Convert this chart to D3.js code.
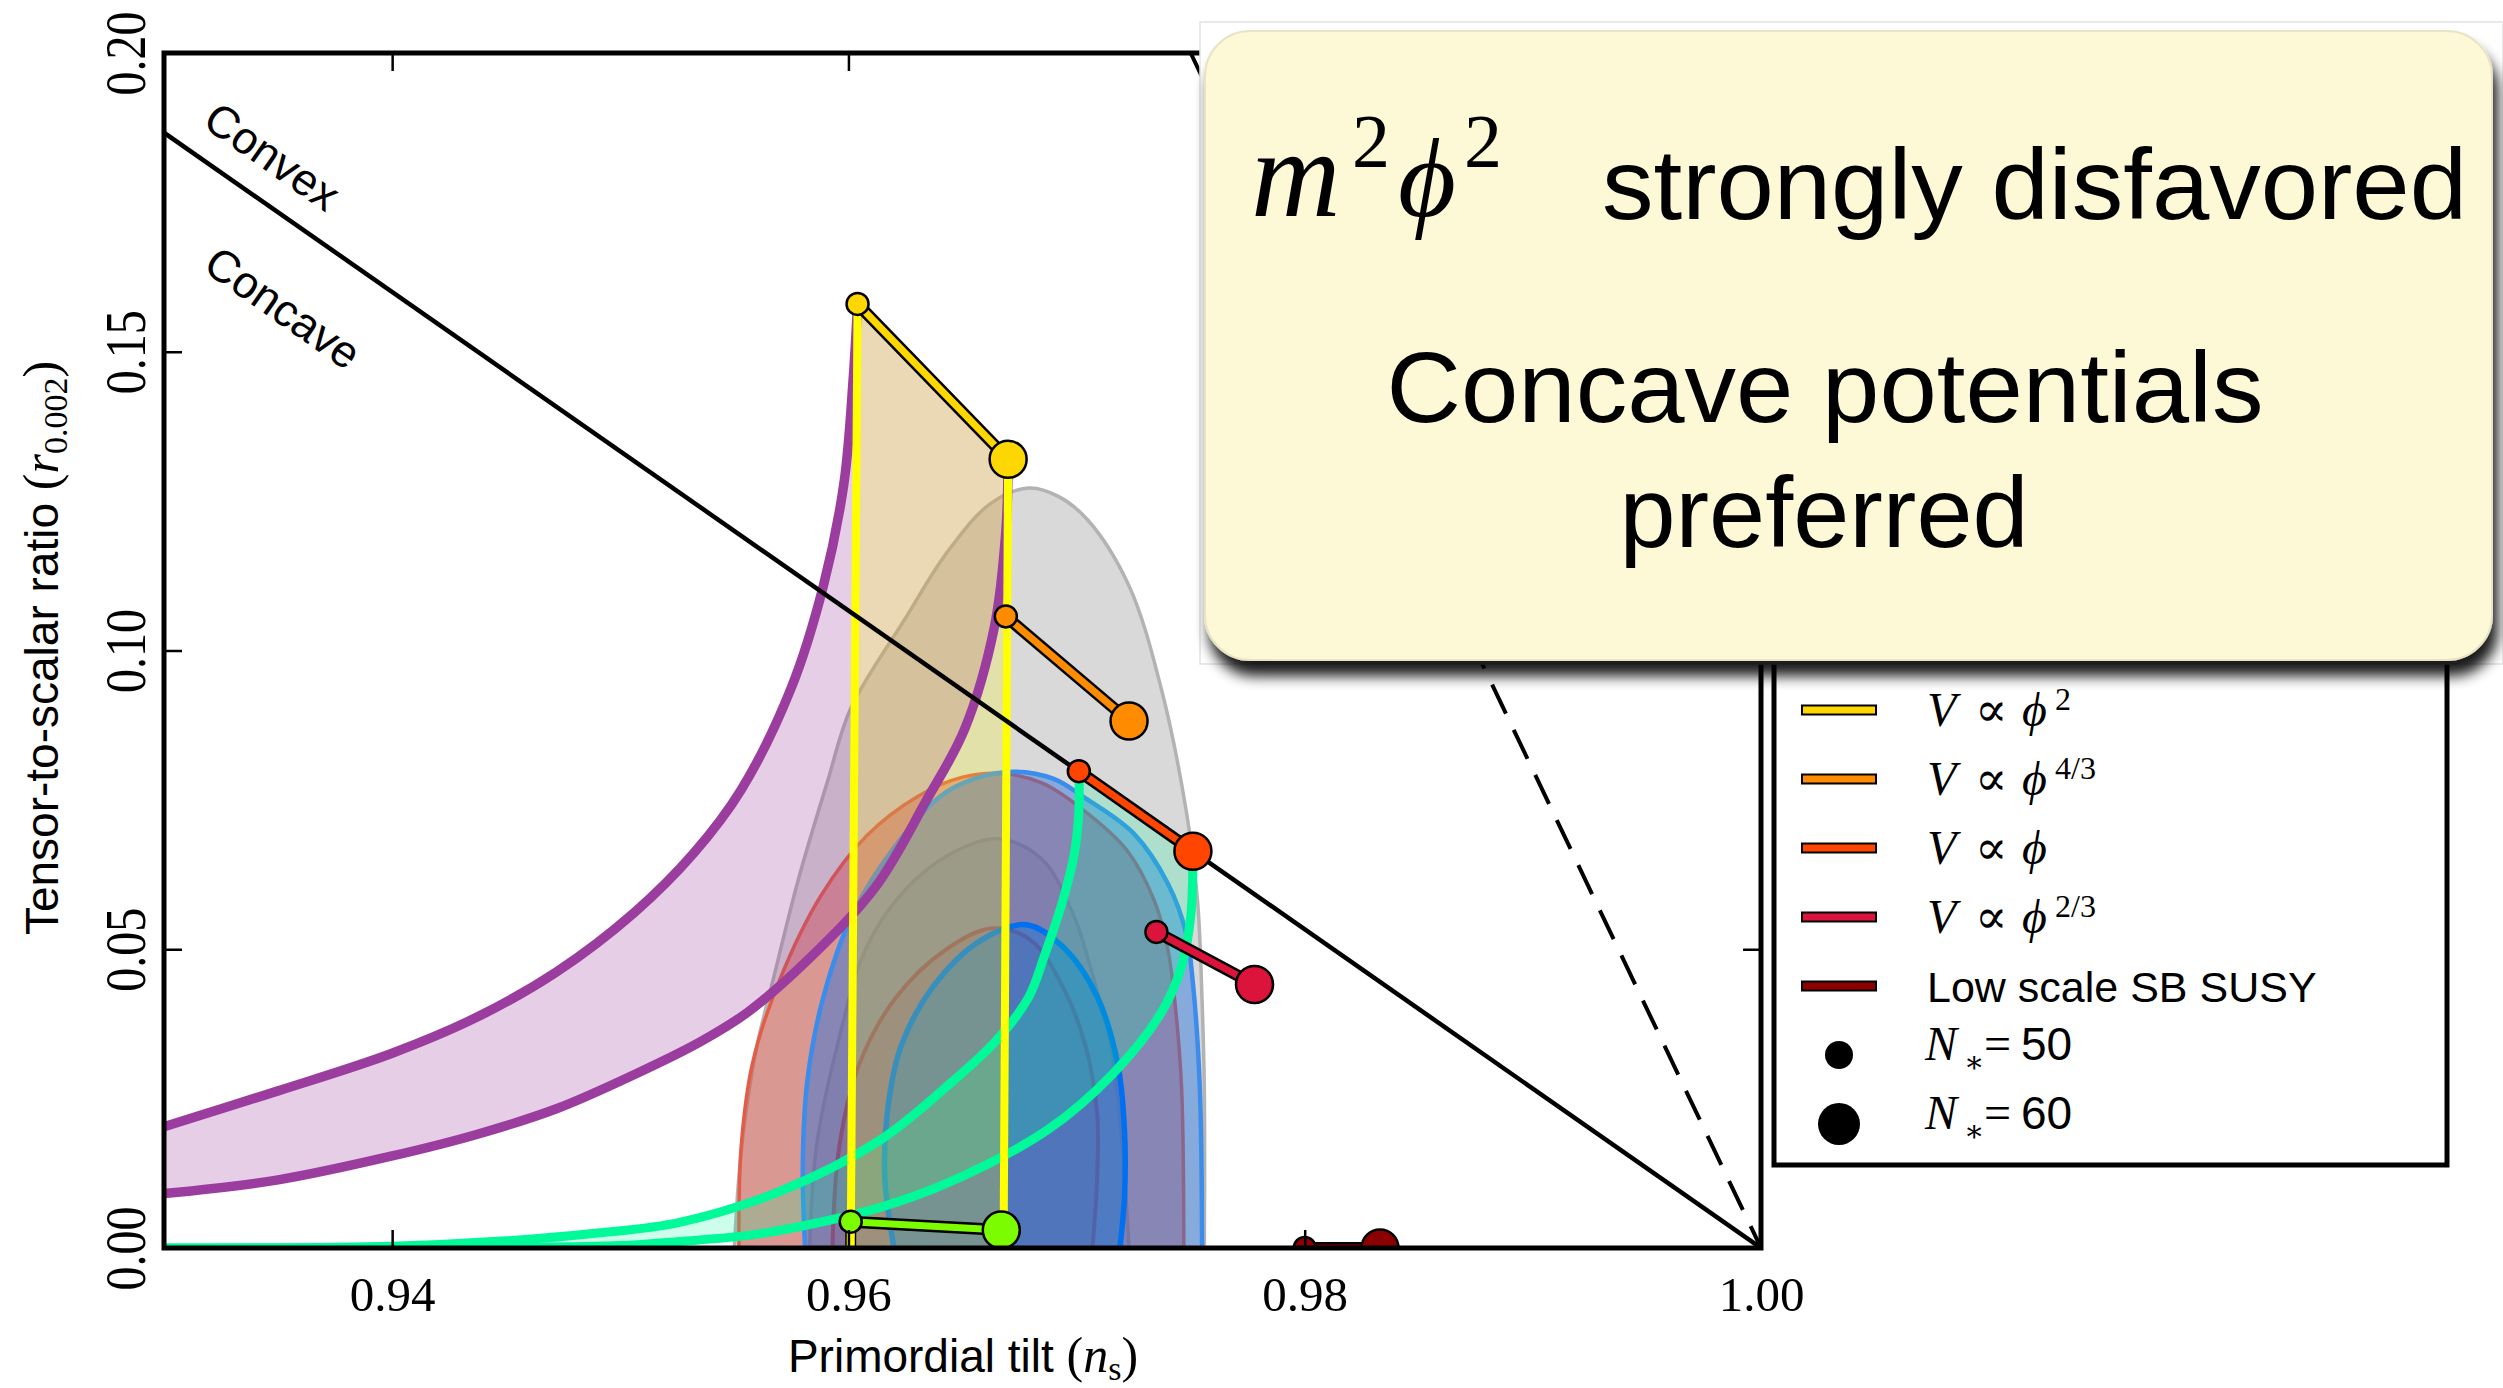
<!DOCTYPE html>
<html>
<head>
<meta charset="utf-8">
<script src="https://cdn.jsdelivr.net/npm/d3@7"></script>
<style>
  body { margin: 0; background: #fff; }
  svg { display: block; }
</style>
</head>
<body>
<svg id="chart" width="2503" height="1388"></svg>
<script>
// ---------- data (n_s, r) ----------
const xTicks = [0.94, 0.96, 0.98, 1.00];
const yTicks = [0.00, 0.05, 0.10, 0.15, 0.20];

// Planck contours (95% and 68%)
const gray95 = [[0.9550,0.0],[0.9552,0.0120],[0.9555,0.0225],[0.9560,0.0340],[0.9567,0.0449],[0.9578,0.0616],[0.9591,0.0783],[0.9601,0.0903],[0.9625,0.1054],[0.9643,0.1163],[0.9662,0.1245],[0.9679,0.1272],[0.9692,0.1258],[0.9705,0.1218],[0.9723,0.1108],[0.9737,0.0938],[0.9748,0.0733],[0.9753,0.0582],[0.9755,0.0415],[0.9756,0.0266],[0.9756,0.0]];
const gray68 = [[0.9583,0.0],[0.9586,0.0170],[0.9595,0.0337],[0.9608,0.0504],[0.9625,0.0600],[0.9645,0.0660],[0.9666,0.0685],[0.9685,0.0650],[0.9699,0.0554],[0.9706,0.0471],[0.9715,0.0337],[0.9720,0.0170],[0.9723,0.0]];
const red95 = [[0.9552,0.0],[0.9553,0.0170],[0.9558,0.0310],[0.9570,0.0450],[0.9588,0.0590],[0.9608,0.0690],[0.9630,0.0755],[0.9650,0.0788],[0.9668,0.0794],[0.9685,0.0778],[0.9703,0.0733],[0.9722,0.0666],[0.9734,0.0582],[0.9740,0.0500],[0.9743,0.0415],[0.9746,0.0270],[0.9747,0.0]];
const red68 = [[0.9593,0.0],[0.9596,0.0170],[0.9605,0.0310],[0.9621,0.0420],[0.9643,0.0500],[0.9663,0.0535],[0.9680,0.0515],[0.9694,0.0437],[0.9704,0.0337],[0.9709,0.0225],[0.9709,0.0114],[0.9707,0.0]];
const blue95 = [[0.9581,0.0],[0.9580,0.0140],[0.9582,0.0280],[0.9589,0.0420],[0.9602,0.0560],[0.9620,0.0670],[0.9640,0.0755],[0.9655,0.0785],[0.9673,0.0797],[0.9690,0.0785],[0.9703,0.0755],[0.9725,0.0694],[0.9740,0.0610],[0.9748,0.0527],[0.9751,0.0443],[0.9754,0.0270],[0.9755,0.0]];
const blue68 = [[0.9620,0.0],[0.9616,0.0114],[0.9617,0.0225],[0.9623,0.0337],[0.9637,0.0437],[0.9658,0.0515],[0.9678,0.0541],[0.9694,0.0504],[0.9709,0.0421],[0.9718,0.0309],[0.9721,0.0197],[0.9721,0.0086],[0.9719,0.0]];

// Natural inflation band edges (N*=50 and N*=60)
const naturalN50 = [[0.930,0.0203],[0.935,0.0263],[0.940,0.0326],[0.9437,0.0386],[0.9472,0.0462],[0.9506,0.0561],[0.9532,0.0660],[0.9553,0.0767],[0.9575,0.0938],[0.9589,0.1108],[0.9598,0.1279],[0.9602,0.1450],[0.9604,0.1580]];
const naturalN60 = [[0.930,0.0091],[0.935,0.0114],[0.940,0.0154],[0.9437,0.0190],[0.9472,0.0233],[0.9506,0.0290],[0.9535,0.0345],[0.9556,0.0395],[0.9583,0.0485],[0.9612,0.0605],[0.9634,0.0748],[0.9651,0.0869],[0.9664,0.1040],[0.9669,0.1200],[0.9670,0.1320]];

// Hilltop quartic band edges
const hilltopN50 = [[0.930,0.0],[0.940,0.0003],[0.945,0.0012],[0.949,0.0025],[0.9526,0.0043],[0.9570,0.0095],[0.9614,0.0181],[0.9643,0.0270],[0.9665,0.0348],[0.9679,0.0420],[0.9686,0.0490],[0.9694,0.0582],[0.9699,0.0660],[0.9701,0.0730],[0.9701,0.0798]];
const hilltopN60 = [[0.930,0.0],[0.945,0.0001],[0.950,0.0004],[0.9526,0.0011],[0.9558,0.0022],[0.9585,0.0041],[0.9614,0.0068],[0.9643,0.0108],[0.9687,0.0197],[0.9716,0.0292],[0.9737,0.0393],[0.9746,0.0471],[0.9750,0.0554],[0.9751,0.0664]];

// alpha-attractor edges
const alphaLeft  = [[0.9601,0.0],[0.9604,0.1580]];
const alphaRight = [[0.9668,0.0],[0.9670,0.1320]];

// boundary lines
const convexBoundary = [[0.930,0.18667],[1.000,0.0]];
const powerLaw = [[0.975,0.2],[1.000,0.0]];

// model predictions: phi^2, phi^(4/3), phi, phi^(2/3), low scale SB SUSY, R^2
const modelKeys = ["phi2","phi43","phi1","phi23","susy","r2"];
const modelN50 = [[0.9604,0.1580],[0.9669,0.1057],[0.9701,0.0798],[0.9735,0.0529],[0.9800,0.0],[0.9601,0.0044]];
const modelN60 = [[0.9670,0.1320],[0.9723,0.0882],[0.9751,0.0664],[0.9778,0.0441],[0.9833,0.0],[0.9667,0.0030]];

// legend
const legendExponents = ["2","4/3","","2/3"];
const legendSusy = "Low scale SB SUSY";
const legendN = ["50","60"];

// ---------- styles ----------
const modelColor = {phi2:"#ffd700", phi43:"#ff8c00", phi1:"#ff4500", phi23:"#dc143c", susy:"#8b0000", r2:"#7cfc00"};
const purple = "#9b3d9f", spring = "#00fa9a";
const MATH = "'Liberation Serif','DejaVu Serif',serif";
const SANS = "'Liberation Sans',Arial,sans-serif";

// ---------- scales ----------
const x = d3.scaleLinear().domain([0.93, 1.0]).range([164, 1761]);
const y = d3.scaleLinear().domain([0, 0.2]).range([1248, 53]);

const svg = d3.select("#chart");
const defs = svg.append("defs");
defs.append("clipPath").attr("id","plotClip").append("rect")
  .attr("x", x.range()[0]).attr("y", y.range()[1])
  .attr("width", x.range()[1]-x.range()[0]).attr("height", y.range()[0]-y.range()[1]);

const shadow = defs.append("filter").attr("id","boxShadow")
  .attr("x","-5%").attr("y","-5%").attr("width","115%").attr("height","125%");
shadow.append("feGaussianBlur").attr("in","SourceAlpha").attr("stdDeviation",7);
shadow.append("feOffset").attr("dx",5).attr("dy",15).attr("result","off");
shadow.append("feComponentTransfer").append("feFuncA").attr("type","linear").attr("slope",0.9);
const merge = shadow.append("feMerge");
merge.append("feMergeNode");
merge.append("feMergeNode").attr("in","SourceGraphic");

const curve = d3.line().x(d=>x(d[0])).y(d=>y(d[1])).curve(d3.curveCatmullRom.alpha(0.5));
const straight = d3.line().x(d=>x(d[0])).y(d=>y(d[1]));
const band = (a, b) => curve(a) + "L" + curve(b.slice().reverse()).slice(1) + "Z";

const plot = svg.append("g").attr("clip-path","url(#plotClip)");

// ---------- contours ----------
const contours = [
  {pts:gray95, fill:"#d9d9d9", op:1,    stroke:"#b3b3b3", sw:3.5},
  {pts:gray68, fill:"#c4c4c4", op:1,    stroke:"#a6a6a6", sw:3.5},
  {pts:red95,  fill:"rgb(220,55,40)", op:0.40, stroke:"rgb(226,92,70)", sw:3.5},
  {pts:red68,  fill:"rgb(220,55,40)", op:0.25, stroke:"rgb(214,56,44)", sw:4},
  {pts:blue95, fill:"rgb(35,112,224)", op:0.45, stroke:"rgb(60,140,235)", sw:4.5},
  {pts:blue68, fill:"rgb(20,120,220)", op:0.45, stroke:"rgb(0,112,240)", sw:5.5}
];
contours.forEach(c => {
  plot.append("path").attr("d", curve(c.pts)+"Z").attr("fill", c.fill).attr("fill-opacity", c.op);
  plot.append("path").attr("d", curve(c.pts)).attr("fill","none").attr("stroke", c.stroke).attr("stroke-width", c.sw);
});

// ---------- model bands ----------
plot.append("path").attr("d", band(naturalN50, naturalN60)).attr("fill", purple).attr("fill-opacity", 0.25);
plot.append("path").attr("d", band(hilltopN50, hilltopN60)).attr("fill", spring).attr("fill-opacity", 0.2);
plot.append("path").attr("d", straight(alphaLeft.concat(alphaRight.slice().reverse()))+"Z")
  .attr("fill", "#ffff00").attr("fill-opacity", 0.22);

[naturalN50, naturalN60].forEach(p => plot.append("path").attr("d", curve(p))
  .attr("fill","none").attr("stroke", purple).attr("stroke-width", 9.5));
[hilltopN50, hilltopN60].forEach(p => plot.append("path").attr("d", curve(p))
  .attr("fill","none").attr("stroke", spring).attr("stroke-width", 9));

// stems under the R^2 points, then the alpha-attractor edges
const r2i = modelKeys.indexOf("r2");
[alphaLeft, alphaRight].forEach((edge, i) => {
  const top = (i === 0 ? modelN50 : modelN60)[r2i];
  plot.append("path").attr("d", straight([edge[0], [edge[0][0], top[1]]]))
    .attr("stroke","#000").attr("stroke-width", 11);
});
[alphaLeft, alphaRight].forEach(edge => plot.append("path").attr("d", straight(edge))
  .attr("stroke","#ffff00").attr("stroke-width", 8));

// ---------- boundary lines ----------
plot.append("path").attr("d", straight(convexBoundary)).attr("stroke","#000").attr("stroke-width", 4.5);
plot.append("path").attr("d", straight(powerLaw)).attr("stroke","#000").attr("stroke-width", 4)
  .attr("stroke-dasharray","32,18");

// ---------- model predictions ----------
modelKeys.forEach((k, i) => {
  const seg = [modelN50[i], modelN60[i]];
  plot.append("path").attr("d", straight(seg)).attr("stroke","#000").attr("stroke-width", 12);
  plot.append("path").attr("d", straight(seg)).attr("stroke", modelColor[k]).attr("stroke-width", 7);
});
modelKeys.forEach((k, i) => {
  plot.append("circle").attr("cx", x(modelN50[i][0])).attr("cy", y(modelN50[i][1])).attr("r", 11)
    .attr("fill", modelColor[k]).attr("stroke","#000").attr("stroke-width", 2.5);
  plot.append("circle").attr("cx", x(modelN60[i][0])).attr("cy", y(modelN60[i][1])).attr("r", 18.5)
    .attr("fill", modelColor[k]).attr("stroke","#000").attr("stroke-width", 2.5);
});

// ---------- convex / concave labels ----------
const p0 = [x(convexBoundary[0][0]), y(convexBoundary[0][1])];
const p1 = [x(convexBoundary[1][0]), y(convexBoundary[1][1])];
const ang = Math.atan2(p1[1]-p0[1], p1[0]-p0[0]) * 180 / Math.PI;
const lab = svg.append("g").attr("transform", `translate(${p0[0]},${p0[1]}) rotate(${ang})`)
  .attr("font-family", SANS).attr("font-size", 45);
lab.append("text").attr("x", 26).attr("y", -27).text("Convex");
lab.append("text").attr("x", 109).attr("y", 91).text("Concave");

// ---------- axes ----------
const tickStyle = g => {
  g.select(".domain").remove();
  g.selectAll(".tick line").attr("stroke","#000").attr("stroke-width", 2.5);
};
const gx = svg.append("g").attr("transform", `translate(0,${y(0)})`)
  .call(d3.axisBottom(x).tickValues(xTicks).tickSize(-18).tickFormat(d3.format(".2f")))
  .call(tickStyle);
gx.selectAll(".tick text").attr("y", 63).attr("dy", 0)
  .attr("font-family", MATH).attr("font-size", 49).attr("fill","#000");

svg.append("g").attr("transform", `translate(0,${y(0.2)})`)
  .call(d3.axisBottom(x).tickValues(xTicks).tickSize(18).tickFormat(""))
  .call(tickStyle);

const gy = svg.append("g").attr("transform", `translate(${x(0.93)},0)`)
  .call(d3.axisLeft(y).tickValues(yTicks).tickSize(-18).tickFormat(d3.format(".2f")))
  .call(tickStyle);
gy.selectAll(".tick text").attr("x", 0).attr("dy", 0)
  .attr("transform", "translate(-19,0) rotate(-90)")
  .attr("text-anchor","middle")
  .attr("font-family", MATH).attr("font-size", 56).attr("fill","#000")
  .attr("textLength", 84).attr("lengthAdjust","spacingAndGlyphs");

svg.append("g").attr("transform", `translate(${x(1.0)},0)`)
  .call(d3.axisLeft(y).tickValues(yTicks).tickSize(18).tickFormat(""))
  .call(tickStyle);

svg.append("rect").attr("x", x(0.93)).attr("y", y(0.2))
  .attr("width", x(1.0)-x(0.93)).attr("height", y(0)-y(0.2))
  .attr("fill","none").attr("stroke","#000").attr("stroke-width", 5);

// axis titles
const xt = svg.append("text").attr("x", 963).attr("y", 1372).attr("text-anchor","middle");
xt.append("tspan").attr("font-family", SANS).attr("font-size", 46).text("Primordial tilt ");
xt.append("tspan").attr("font-family", MATH).attr("font-size", 50).text("(");
xt.append("tspan").attr("font-family", MATH).attr("font-style","italic").attr("font-size", 50).text("n");
xt.append("tspan").attr("font-family", MATH).attr("font-size", 34).attr("dy", 8).text("s");
xt.append("tspan").attr("font-family", MATH).attr("font-size", 50).attr("dy", -8).text(")");

const yt = svg.append("text").attr("transform", "translate(58,648) rotate(-90)").attr("text-anchor","middle");
yt.append("tspan").attr("font-family", SANS).attr("font-size", 46).text("Tensor-to-scalar ratio ");
yt.append("tspan").attr("font-family", MATH).attr("font-size", 50).text("(");
yt.append("tspan").attr("font-family", MATH).attr("font-style","italic").attr("font-size", 50).text("r");
yt.append("tspan").attr("font-family", MATH).attr("font-size", 34).attr("dy", 9).text("0.002");
yt.append("tspan").attr("font-family", MATH).attr("font-size", 50).attr("dy", -9).text(")");

// ---------- legend ----------
const legend = svg.append("g");
legend.append("rect").attr("x", 1774).attr("y", 480).attr("width", 673).attr("height", 685)
  .attr("fill","#fff").attr("stroke","#000").attr("stroke-width", 5);
const rowY = d3.scaleLinear().domain([0, 6]).range([710, 1124]);
const legendKeys = ["phi2","phi43","phi1","phi23","susy"];
legendKeys.forEach((k, i) => {
  const cy = rowY(i);
  legend.append("rect").attr("x", 1802).attr("y", cy-4.5).attr("width", 74).attr("height", 9)
    .attr("fill", modelColor[k]).attr("stroke","#000").attr("stroke-width", 2);
  const t = legend.append("text").attr("y", cy + 16);
  if (k === "susy") {
    t.attr("x", 1927).attr("font-family", SANS).attr("font-size", 43).text(legendSusy);
  } else {
    t.attr("font-family", MATH).attr("font-size", 48);
    t.append("tspan").attr("x", 1927).attr("font-style","italic").text("V");
    t.append("tspan").attr("x", 1975).text("\u221D");
    t.append("tspan").attr("x", 2022).attr("font-style","italic").text("\u03D5");
    if (legendExponents[i]) {
      t.append("tspan").attr("x", 2055).attr("dy", -16).attr("font-size", 32).text(legendExponents[i]);
    }
  }
});
legendN.forEach((n, j) => {
  const cy = rowY(5 + j);
  legend.append("circle").attr("cx", 1839).attr("cy", cy).attr("r", j === 0 ? 14 : 21).attr("fill","#000");
  const t = legend.append("text").attr("y", cy + 5).attr("font-family", MATH).attr("font-size", 48);
  t.append("tspan").attr("x", 1925).attr("font-style","italic").text("N");
  t.append("tspan").attr("x", 1964).attr("dy", 12).attr("font-size", 30).text("\u2217");
  t.append("tspan").attr("x", 1984).attr("dy", -12).text("=");
  t.append("tspan").attr("x", 2021).attr("font-family", SANS).attr("font-size", 46).text(n);
});

// ---------- callout ----------
const callout = svg.append("g");
callout.append("rect").attr("x", 1200).attr("y", 22).attr("width", 1303).attr("height", 642)
  .attr("fill","#fff").attr("stroke","#e2e2e2").attr("stroke-width", 1.5);
callout.append("rect").attr("x", 1205).attr("y", 31).attr("width", 1287).attr("height", 629)
  .attr("rx", 45).attr("ry", 45)
  .attr("fill","#fdf8d5").attr("stroke","#e8e4c6").attr("stroke-width", 2)
  .attr("filter","url(#boxShadow)");

const m1 = callout.append("text").attr("font-family", MATH).attr("font-style","italic");
m1.append("tspan").attr("x", 1251).attr("y", 216).attr("font-size", 124).text("m");
m1.append("tspan").attr("x", 1352).attr("y", 167).attr("font-size", 76).attr("font-style","normal").text("2");
m1.append("tspan").attr("x", 1398).attr("y", 216).attr("font-size", 112).text("\u03D5");
m1.append("tspan").attr("x", 1464).attr("y", 167).attr("font-size", 76).attr("font-style","normal").text("2");

callout.append("text").attr("x", 1602).attr("y", 219).attr("font-family", SANS).attr("font-size", 101)
  .attr("textLength", 865).attr("lengthAdjust","spacingAndGlyphs").text("strongly disfavored");
callout.append("text").attr("x", 1825).attr("y", 422).attr("text-anchor","middle")
  .attr("font-family", SANS).attr("font-size", 101)
  .attr("textLength", 877).attr("lengthAdjust","spacingAndGlyphs").text("Concave potentials");
callout.append("text").attr("x", 1824).attr("y", 547).attr("text-anchor","middle")
  .attr("font-family", SANS).attr("font-size", 101)
  .attr("textLength", 409).attr("lengthAdjust","spacingAndGlyphs").text("preferred");
</script>
</body>
</html>
